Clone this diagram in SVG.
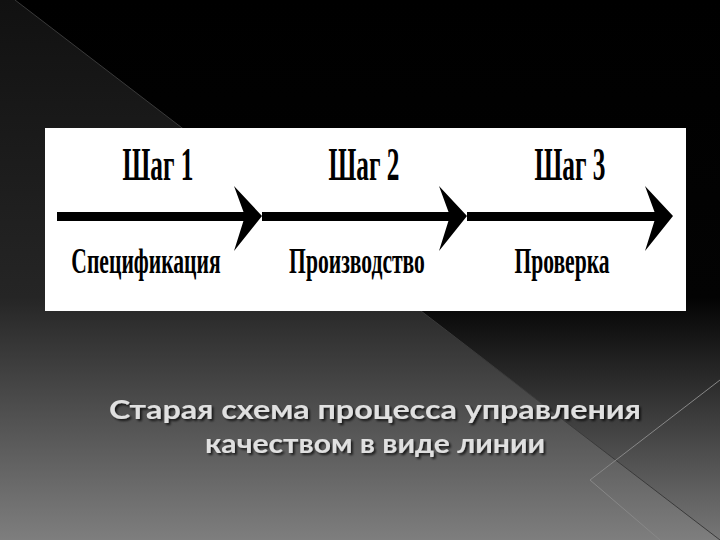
<svg xmlns="http://www.w3.org/2000/svg" width="720" height="540" viewBox="0 0 720 540">
<defs>
<linearGradient id="bg" x1="0" y1="0" x2="0" y2="1">
<stop offset="0" stop-color="#000"/><stop offset="0.55" stop-color="#030303"/><stop offset="1" stop-color="#777"/>
</linearGradient>
<linearGradient id="lt" x1="0" y1="0" x2="0" y2="1">
<stop offset="0" stop-color="#111"/><stop offset="0.55" stop-color="#252525"/><stop offset="1" stop-color="#7e7e7e"/>
</linearGradient>
<filter id="sh" x="-5%" y="-20%" width="110%" height="140%"><feDropShadow dx="2" dy="2" stdDeviation="1" flood-color="#000" flood-opacity="0.7"/></filter>
<style>
.h{font-family:"Liberation Serif",serif;font-weight:bold;font-size:46px;fill:#000;text-anchor:middle}
.l{font-family:"Liberation Serif",serif;font-weight:bold;font-size:36px;fill:#000;text-anchor:middle}
.c{font-family:"Lato","Open Sans",sans-serif;font-weight:bold;font-size:26px;fill:#e0e0e0;text-anchor:middle;filter:url(#sh)}
</style>
</defs>
<rect width="720" height="540" fill="url(#bg)"/>
<polygon points="0,0 15,0 720,540 0,540" fill="url(#lt)"/>
<line x1="15" y1="0" x2="720" y2="540" stroke="#3a3a3a" stroke-width="1"/>
<line x1="590" y1="480" x2="720" y2="380" stroke="#888" stroke-width="1"/>
<line x1="590" y1="480" x2="660" y2="540" stroke="#888" stroke-width="1"/>
<g id="panel">
<rect x="45" y="128" width="641" height="183" fill="#fff"/>
</g>
<g id="connectors" fill="#000">
<rect x="57" y="212" width="190" height="9"/>
<rect x="262" y="212" width="190" height="9"/>
<rect x="467" y="212" width="190" height="9"/>
<polygon points="234,186 262,216 234,251 245,216"/>
<polygon points="439,186 467,216 439,251 450,216"/>
<polygon points="645,186 673,216 645,251 656,216"/>
</g>
<g id="step1"><text class="h" transform="translate(158,180) scale(0.55,1)">Шаг 1</text><text class="l" transform="translate(146,273) scale(0.6,1)">Спецификация</text></g>
<g id="step2"><text class="h" transform="translate(364,180) scale(0.55,1)">Шаг 2</text><text class="l" transform="translate(357,273) scale(0.6,1)">Производство</text></g>
<g id="step3"><text class="h" transform="translate(570,180) scale(0.55,1)">Шаг 3</text><text class="l" transform="translate(562,273) scale(0.6,1)">Проверка</text></g>
<g id="caption">
<text class="c" x="375" y="419" textLength="532" lengthAdjust="spacingAndGlyphs">Старая схема процесса управления</text>
<text class="c" x="375" y="453" textLength="340" lengthAdjust="spacingAndGlyphs">качеством в виде линии</text>
</g>
</svg>
